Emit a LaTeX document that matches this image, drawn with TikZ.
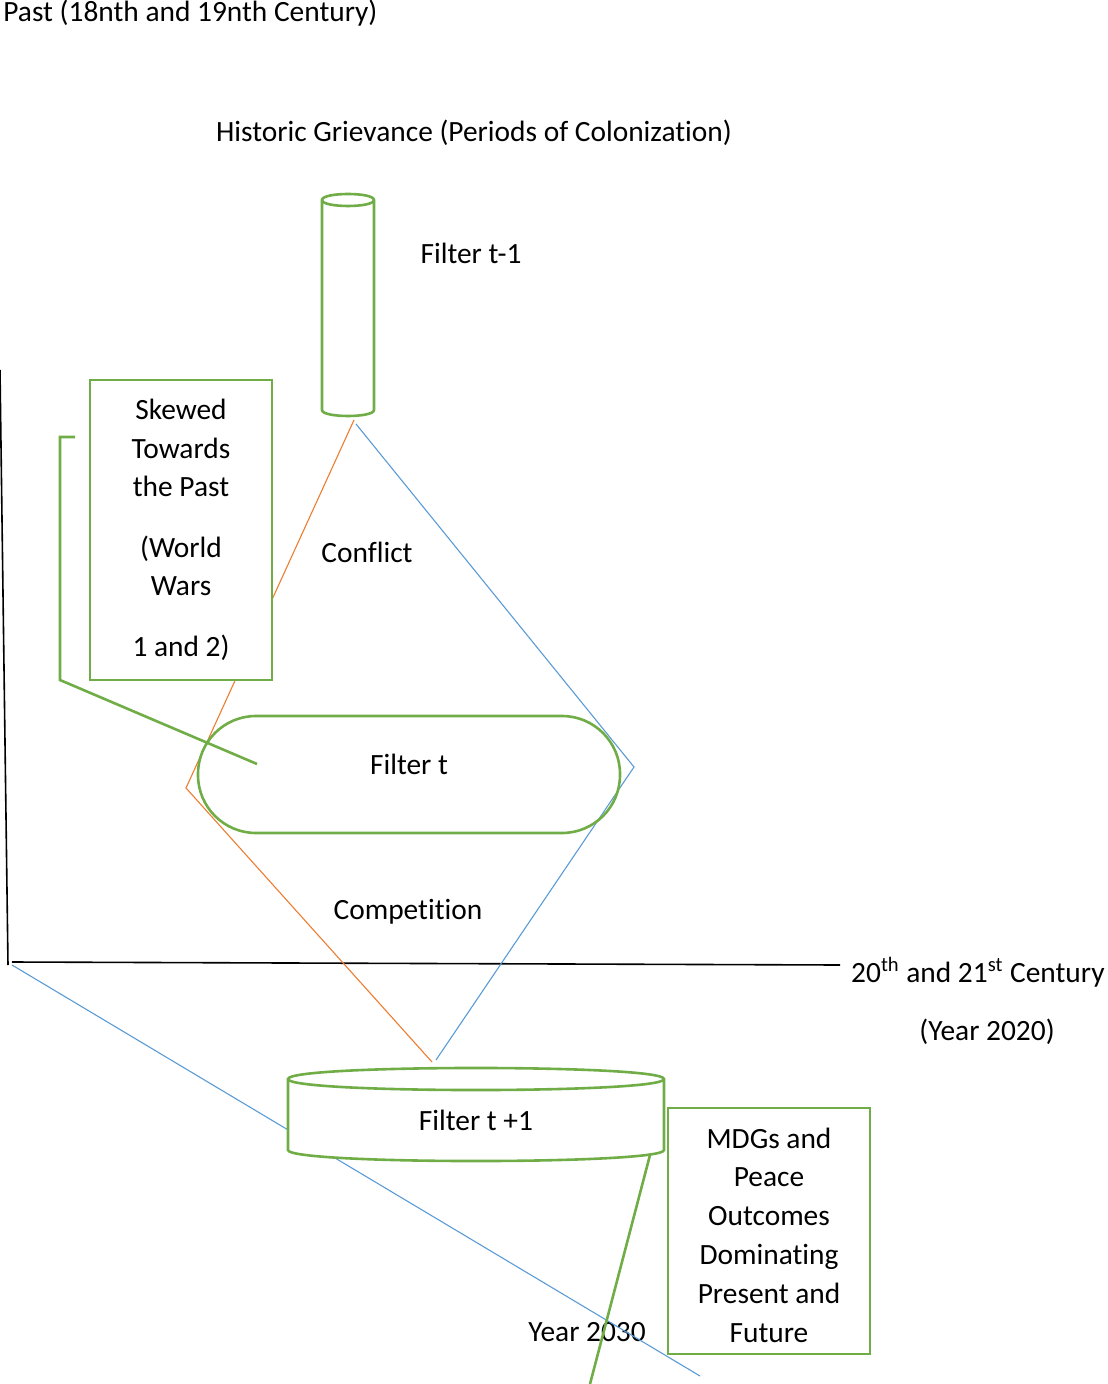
\documentclass[tikz,border=0pt]{standalone}
\usepackage{fontspec}
\setmainfont{Carlito}[Ligatures=NoCommon]
\definecolor{ggreen}{HTML}{70AD47}
\definecolor{gblue}{HTML}{5B9BD5}
\definecolor{gorange}{HTML}{ED7D31}
\tikzset{
  txt/.style={font=\fontsize{14.7}{19.25}\selectfont, inner sep=0pt, align=center},
  gline/.style={draw=ggreen, line width=1.3pt},
  bline/.style={draw=gblue, line width=0.55pt},
  oline/.style={draw=gorange, line width=0.55pt},
  kline/.style={draw=black, line width=0.8pt},
  gbox/.style={gline, fill=white, rectangle, inner sep=0pt}
}
\begin{document}
\begin{tikzpicture}[x=0.5pt, y=-0.5pt]
\useasboundingbox (0,0) rectangle (1107,1384);

% named coordinates
\coordinate (vtop) at (0,370);
\coordinate (vbot) at (8,965);
\coordinate (hleft) at (12,962);
\coordinate (hright) at (840,965);
\coordinate (o1) at (354,420);
\coordinate (o2) at (186,788);
\coordinate (o3) at (432,1062);
\coordinate (b1) at (356,424);
\coordinate (b2) at (634,767);
\coordinate (b3) at (436,1060);
\coordinate (bl1) at (12,965);
\coordinate (bl2) at (700,1376);
\coordinate (g1) at (650,1155);
\coordinate (g2) at (590,1384);
\coordinate (br1) at (75,437);
\coordinate (br2) at (60,437);
\coordinate (br3) at (60,680);
\coordinate (br4) at (257,764);

% black axes
\draw[kline] (vtop) -- (vbot);
\draw[kline] (hleft) -- (hright);

% orange and blue funnel lines
\draw[oline] (o1) -- (o2) -- (o3);
\draw[bline] (b1) -- (b2) -- (b3);

% Skewed box
\node[gbox, minimum width=91pt, minimum height=150pt] (skew) at (181,530) {};
\node[txt] (skewtxt) at (181,530) {Skewed\\Towards\\the Past\\[11pt](World\\Wars\\[11pt]1 and 2)};

% Cylinder t-1
\draw[gline, fill=white] (322,200) -- (322,410) .. controls (322,418) and (374,418) .. (374,410) -- (374,200) .. controls (374,192) and (322,192) .. (322,200) -- cycle;
\draw[gline] (322,200) .. controls (322,208) and (374,208) .. (374,200);

% Filter t stadium
\node[gline, rectangle, rounded corners=29pt, minimum width=211pt, minimum height=58.5pt] (ft) at (409,774.5) {};
\node[txt] (fttxt) at (409,764) {Filter t};

% bracket
\draw[gline] (br1) -- (br2) -- (br3) -- (br4);

% Year 2030 and long blue line
\node[txt] (y2030) at (587,1332) {Year 2030};
\draw[bline] (bl1) -- (bl2);

% Cylinder t+1
\draw[gline, fill=white] (288,1079) -- (288,1150) .. controls (288,1164.7) and (664,1164.7) .. (664,1150) -- (664,1079) .. controls (664,1064.3) and (288,1064.3) .. (288,1079) -- cycle;
\draw[gline] (288,1079) .. controls (288,1093.7) and (664,1093.7) .. (664,1079);
\node[txt] (ft1txt) at (476,1120) {Filter t +1};

% green line
\draw[gline] (g1) -- (g2);

% MDGs box
\node[gbox, minimum width=101pt, minimum height=123pt] (mdg) at (769,1231) {};
\node[txt, font=\fontsize{14.7}{19.4}\selectfont] (mdgtxt) at (769,1235) {MDGs and\\Peace\\Outcomes\\Dominating\\Present and\\Future};

% labels
\node[txt, anchor=west] (past) at (3,13) {Past (18nth and 19nth Century)};
\node[txt] (hist) at (474,133) {Historic Grievance (Periods of Colonization)};
\node[txt] (f1lab) at (471,253) {Filter t-1};
\node[txt] (conf) at (367,552) {Conflict};
\node[txt] (comp) at (408,912) {Competition};
\node[txt, anchor=east] (cent) at (1105,972) {20\textsuperscript{th} and 21\textsuperscript{st} Century};
\node[txt] (y2020) at (987,1032) {(Year 2020)};
\end{tikzpicture}
\end{document}
